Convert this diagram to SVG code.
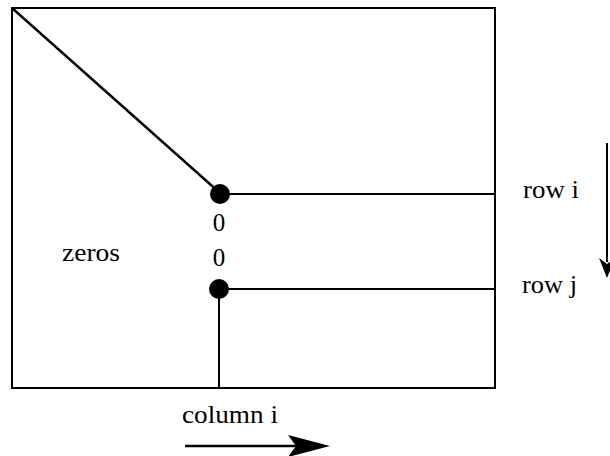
<svg xmlns="http://www.w3.org/2000/svg" width="610" height="456" viewBox="0 0 610 456">
<style>
.ln{stroke:#000;stroke-width:2;fill:none}
.t{font-family:"Liberation Serif","Times New Roman",serif;font-size:25px;fill:#000}
.dot{fill:#000}
</style>
<rect width="610" height="456" fill="#fff"/>
<g id="matrix"><rect class="ln" x="12" y="8" width="483" height="380"/></g>
<g id="connectors">
<line class="ln" x1="12" y1="8" x2="220" y2="193" style="stroke-width:2.4"/>
<line class="ln" x1="220" y1="194" x2="495" y2="194"/>
<line class="ln" x1="219" y1="289" x2="495" y2="289"/>
<line class="ln" x1="219" y1="289" x2="219" y2="388"/>
<line class="ln" x1="607" y1="143" x2="607" y2="262"/>
<path class="dot" d="M599 258 L607 278 L615 258 L607 264 Z"/>
<line class="ln" x1="185" y1="446" x2="300" y2="446" style="stroke-width:2.5"/>
<path class="dot" d="M288 435 L330 446 L288 457 L296 446 Z"/>
</g>
<g id="node-pivot-i"><circle class="dot" cx="220" cy="194" r="10"/></g>
<g id="node-pivot-j"><circle class="dot" cx="219" cy="289" r="10"/></g>
<g id="labels">
<text class="t" x="219" y="231" text-anchor="middle">0</text>
<text class="t" x="219" y="266" text-anchor="middle">0</text>
<text class="t" x="62" y="261" textLength="58" lengthAdjust="spacingAndGlyphs">zeros</text>
<text class="t" x="523" y="198" textLength="56" lengthAdjust="spacingAndGlyphs">row i</text>
<text class="t" x="522" y="293" textLength="55" lengthAdjust="spacingAndGlyphs">row j</text>
<text class="t" x="182" y="423" textLength="96" lengthAdjust="spacingAndGlyphs">column i</text>
</g>
</svg>
